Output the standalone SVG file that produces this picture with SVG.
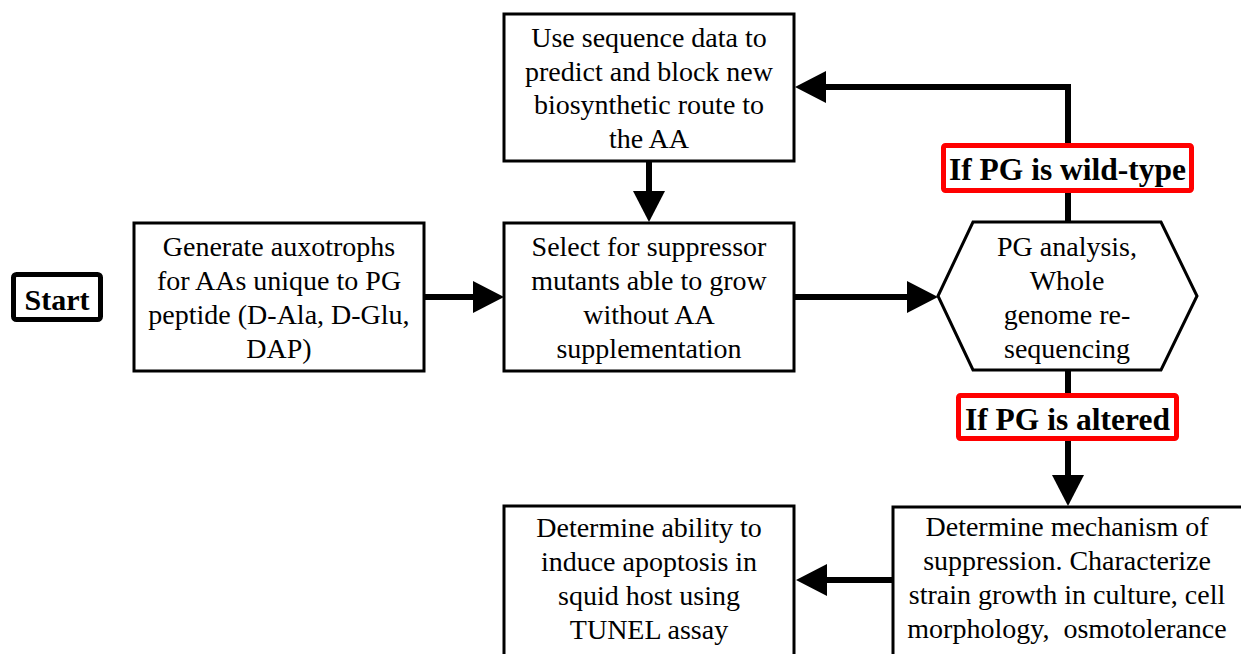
<svg xmlns="http://www.w3.org/2000/svg" width="1241" height="654" viewBox="0 0 1241 654">
  <style>
    .box { fill: #ffffff; stroke: #000000; stroke-width: 3; }
    .start { fill: #ffffff; stroke: #000000; stroke-width: 5; }
    .cond { fill: #ffffff; stroke: #ff0000; stroke-width: 5; }
    .txt { font-family: "Liberation Serif", "Times New Roman", serif; font-size: 28px; fill: #000000; text-anchor: middle; }
    .bold { font-family: "Liberation Serif", "Times New Roman", serif; font-size: 31.5px; font-weight: bold; fill: #000000; text-anchor: middle; }
    .link { fill: none; stroke: #000000; stroke-width: 6; stroke-linejoin: miter; }
  </style>
  <defs>
    <marker id="head" markerUnits="userSpaceOnUse" viewBox="0 0 31 32" refX="0" refY="16" markerWidth="31" markerHeight="32" orient="auto">
      <polygon points="0,0 31,16 0,32" fill="#000000"/>
    </marker>
  </defs>
  <rect width="1241" height="654" fill="#ffffff"/>

  <!-- connectors -->
  <g id="connectors">
    <path class="link" d="M425,297 H473" marker-end="url(#head)"/>
    <path class="link" d="M795,297 H907" marker-end="url(#head)"/>
    <path class="link" d="M649,162 V191" marker-end="url(#head)"/>
    <path class="link" d="M1068,222 V87 H826" marker-end="url(#head)"/>
    <path class="link" d="M1068,370 V475" marker-end="url(#head)"/>
    <path class="link" d="M892,580 H827" marker-end="url(#head)"/>
  </g>

  <g id="start">
    <rect class="start" x="13.5" y="274.5" width="87" height="45" rx="3"/>
    <text class="bold" x="57" y="310" style="font-size:30px">Start</text>
  </g>

  <g id="generate">
    <rect class="box" x="134" y="223" width="290" height="148"/>
    <text class="txt" x="279" y="256">Generate auxotrophs</text>
    <text class="txt" x="279" y="290">for AAs unique to PG</text>
    <text class="txt" x="279" y="324">peptide (D-Ala, D-Glu,</text>
    <text class="txt" x="279" y="358">DAP)</text>
  </g>

  <g id="select">
    <rect class="box" x="504" y="223" width="290" height="148"/>
    <text class="txt" x="649" y="256">Select for suppressor</text>
    <text class="txt" x="649" y="290">mutants able to grow</text>
    <text class="txt" x="649" y="324">without AA</text>
    <text class="txt" x="649" y="358">supplementation</text>
  </g>

  <g id="predict">
    <rect class="box" x="504" y="14" width="290" height="147"/>
    <text class="txt" x="649" y="47">Use sequence data to</text>
    <text class="txt" x="649" y="81">predict and block new</text>
    <text class="txt" x="649" y="114">biosynthetic route to</text>
    <text class="txt" x="649" y="148">the AA</text>
  </g>

  <g id="analysis">
    <polygon class="box" points="938,296 973,222 1161,222 1197,296 1161,370 973,370"/>
    <text class="txt" x="1067" y="256">PG analysis,</text>
    <text class="txt" x="1067" y="290">Whole</text>
    <text class="txt" x="1067" y="324">genome re-</text>
    <text class="txt" x="1067" y="358">sequencing</text>
  </g>

  <g id="wild-type">
    <rect class="cond" x="943.5" y="145.5" width="248" height="45" rx="2"/>
    <text class="bold" x="1067.5" y="180">If PG is wild-type</text>
  </g>

  <g id="altered">
    <rect class="cond" x="958.5" y="395.5" width="218" height="43" rx="2"/>
    <text class="bold" x="1067.5" y="430">If PG is altered</text>
  </g>

  <g id="mechanism">
    <rect class="box" x="893" y="507" width="360" height="170"/>
    <text class="txt" x="1067" y="536">Determine mechanism of</text>
    <text class="txt" x="1067" y="570">suppression. Characterize</text>
    <text class="txt" x="1067" y="604">strain growth in culture, cell</text>
    <text class="txt" x="1067" y="638" xml:space="preserve">morphology,  osmotolerance</text>
  </g>

  <g id="apoptosis">
    <rect class="box" x="504" y="506" width="290" height="170"/>
    <text class="txt" x="649" y="537">Determine ability to</text>
    <text class="txt" x="649" y="571">induce apoptosis in</text>
    <text class="txt" x="649" y="605">squid host using</text>
    <text class="txt" x="649" y="639">TUNEL assay</text>
  </g>
</svg>
